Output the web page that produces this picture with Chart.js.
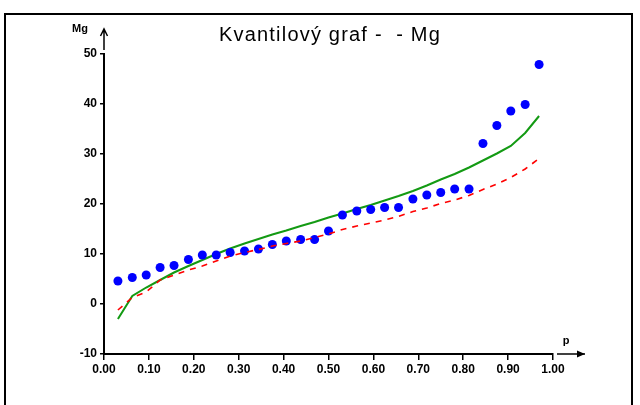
<!DOCTYPE html>
<html>
<head>
<meta charset="utf-8">
<script src="https://cdn.jsdelivr.net/npm/chart.js@4"></script>
<style>
  html, body { margin: 0; padding: 0; background: #ffffff; }
  #wrap { width: 640px; height: 405px; }
</style>
</head>
<body>
<div id="wrap"><canvas id="chartKvantil" width="640" height="405"></canvas></div>
<script>
// Quantile plot of Mg: sample values vs. p, with two reference curves.
var quantiles = [0.031, 0.063, 0.094, 0.125, 0.156, 0.188, 0.219, 0.250, 0.281, 0.313,
                 0.344, 0.375, 0.406, 0.438, 0.469, 0.500, 0.531, 0.563, 0.594, 0.625,
                 0.656, 0.688, 0.719, 0.750, 0.781, 0.813, 0.844, 0.875, 0.906, 0.938, 0.969];
var mgValues   = [4.6, 5.3, 5.8, 7.3, 7.7, 8.9, 9.8, 9.8, 10.3, 10.6,
                  11.0, 11.9, 12.6, 12.9, 12.9, 14.6, 17.8, 18.6, 18.9, 19.3,
                  19.3, 21.0, 21.8, 22.3, 23.0, 23.0, 32.1, 35.7, 38.6, 39.9, 47.9];
var greenCurve = [-3.0, 1.6, 3.3, 4.8, 6.3, 7.6, 8.8, 10.0, 11.1, 12.1,
                  13.0, 13.9, 14.7, 15.6, 16.4, 17.3, 18.1, 19.0, 19.8, 20.7,
                  21.6, 22.6, 23.7, 24.9, 26.0, 27.3, 28.7, 30.1, 31.6, 34.2, 37.6];
var redCurve   = [-1.2, 1.3, 2.4, 4.8, 5.8, 6.8, 7.6, 8.6, 9.6, 10.3,
                  10.9, 11.6, 12.1, 12.6, 13.3, 14.0, 14.9, 15.6, 16.2, 16.8,
                  17.5, 18.5, 19.2, 20.1, 20.8, 21.7, 22.9, 24.0, 25.3, 27.0, 29.1];
var xTicks = [0, 0.1, 0.2, 0.3, 0.4, 0.5, 0.6, 0.7, 0.8, 0.9, 1.0];
var yTicks = [-10, 0, 10, 20, 30, 40, 50];

var titleText = 'Kvantilový graf -  - Mg';
var yLabel = 'Mg';
var xLabel = 'p';

function points(values) {
    return quantiles.map(function (p, i) { return { x: p, y: values[i] }; });
}

var tickFont = { family: 'Liberation Sans', size: 12, weight: 'bold' };

// Frame, title, axis names and the little arrows past the axes.
var decor = {
    id: 'decor',
    afterDraw: function (chart) {
        var ctx = chart.ctx;
        var area = chart.chartArea;
        ctx.save();

        ctx.strokeStyle = '#000';
        ctx.lineWidth = 2;
        ctx.strokeRect(5, 14, 627, 420);

        ctx.fillStyle = '#000';
        ctx.font = '20px "Liberation Sans"';
        ctx.textAlign = 'center';
        ctx.textBaseline = 'alphabetic';
        if ('letterSpacing' in ctx) { ctx.letterSpacing = '1.2px'; }
        ctx.fillText(titleText, 330, 41);
        if ('letterSpacing' in ctx) { ctx.letterSpacing = '0px'; }

        ctx.font = 'bold 11px "Liberation Sans"';
        ctx.textAlign = 'right';
        ctx.fillText(yLabel, 88, 32);
        ctx.textAlign = 'center';
        ctx.fillText(xLabel, 566, 344);

        // y arrow
        ctx.lineWidth = 1.5;
        ctx.beginPath();
        ctx.moveTo(area.left, area.top - 4);
        ctx.lineTo(area.left, 29);
        ctx.moveTo(area.left - 3.5, 36);
        ctx.lineTo(area.left, 29);
        ctx.lineTo(area.left + 3.5, 36);
        ctx.stroke();

        // x arrow
        ctx.beginPath();
        ctx.moveTo(area.right + 4, area.bottom);
        ctx.lineTo(585, area.bottom);
        ctx.stroke();
        ctx.beginPath();
        ctx.moveTo(585, area.bottom);
        ctx.lineTo(577, area.bottom - 3.5);
        ctx.lineTo(577, area.bottom + 3.5);
        ctx.closePath();
        ctx.fill();

        ctx.restore();
    }
};

new Chart(document.getElementById('chartKvantil'), {
    type: 'scatter',
    data: {
        datasets: [{
            data: points(mgValues),
            backgroundColor: '#0000ff',
            borderColor: '#0000ff',
            pointRadius: 4.5,
            pointBorderWidth: 0,
            showLine: false,
            order: 1
        }, {
            data: points(redCurve),
            borderColor: '#ff0000',
            borderWidth: 1.6,
            borderDash: [6, 6],
            pointRadius: 0,
            showLine: true,
            tension: 0,
            order: 0
        }, {
            data: points(greenCurve),
            borderColor: '#139a13',
            borderWidth: 2,
            pointRadius: 0,
            showLine: true,
            tension: 0,
            order: 2
        }]
    },
    options: {
        responsive: false,
        animation: false,
        layout: { padding: { left: 40, top: 54, right: 87, bottom: 21 } },
        plugins: {
            legend: { display: false },
            title: { display: false },
            tooltip: { enabled: false }
        },
        scales: {
            x: {
                type: 'linear',
                min: 0,
                max: 1,
                afterFit: function (scale) { scale.height = 30; },
                afterBuildTicks: function (scale) {
                    scale.ticks = xTicks.map(function (v) { return { value: v }; });
                },
                border: { display: true, color: '#000', width: 2 },
                grid: { drawOnChartArea: false, drawTicks: true, tickLength: 6, color: '#000', lineWidth: 1.5 },
                ticks: {
                    color: '#000',
                    font: tickFont,
                    padding: 2,
                    maxRotation: 0,
                    autoSkip: false,
                    callback: function (v) { return Number(v).toFixed(2); }
                }
            },
            y: {
                type: 'linear',
                min: -10,
                max: 50,
                afterFit: function (scale) { scale.width = 64; },
                afterBuildTicks: function (scale) {
                    scale.ticks = yTicks.map(function (v) { return { value: v }; });
                },
                border: { display: true, color: '#000', width: 2 },
                grid: { drawOnChartArea: false, drawTicks: true, tickLength: 4, color: '#000', lineWidth: 1.5 },
                ticks: {
                    color: '#000',
                    font: tickFont,
                    padding: 3,
                    autoSkip: false,
                    callback: function (v) { return String(v); }
                }
            }
        }
    },
    plugins: [decor]
});
</script>
</body>
</html>
